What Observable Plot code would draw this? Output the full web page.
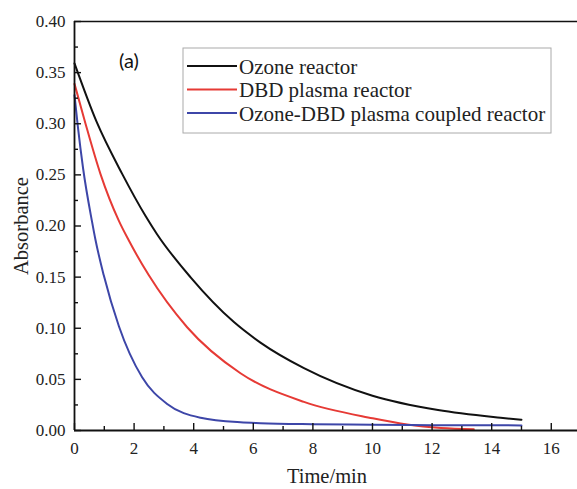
<!DOCTYPE html>
<html><head><meta charset="utf-8">
<script src="https://cdn.jsdelivr.net/npm/d3@7"></script>
<script src="https://cdn.jsdelivr.net/npm/@observablehq/plot@0.6"></script>
<style>
body{margin:0;background:#fff}
#chart{position:relative;width:577px;height:489px}
</style>
</head><body><div id="chart"></div>
<script>
// ---- data ----
const seriesNames = ["Ozone reactor", "DBD plasma reactor", "Ozone-DBD plasma coupled reactor"];
const seriesColors = ["#111111", "#e63a35", "#3d46a8"];

const ozoneTime = [0, 0.74, 1.6, 2.38, 2.77, 3.89, 5.35, 6.24, 7.7, 10.0, 12.2, 14.3, 15.0];
const ozoneAbs  = [0.359, 0.302, 0.251, 0.210, 0.192, 0.150, 0.106, 0.086, 0.061, 0.034, 0.020, 0.0125, 0.0105];

const dbdTime = [0, 0.37, 0.87, 1.49, 1.82, 2.49, 3.78, 5.57, 7.7, 10.0, 11.16, 12.3, 13.4];
const dbdAbs  = [0.339, 0.300, 0.251, 0.205, 0.186, 0.152, 0.101, 0.056, 0.028, 0.012, 0.0059, 0.0025, 0.0012];

const coupledTime = [0, 0.11, 0.29, 0.59, 0.70, 0.98, 1.49, 2.27, 3.11, 4.23, 5.57, 6.24, 8.0, 10.0, 12.0, 15.0];
const coupledAbs  = [0.328, 0.298, 0.256, 0.204, 0.187, 0.152, 0.102, 0.052, 0.026, 0.0125, 0.008, 0.0072, 0.0062, 0.0056, 0.0052, 0.005];

const xMajorTicks = [0, 2, 4, 6, 8, 10, 12, 14, 16];
const xMinorTicks = [1, 3, 5, 7, 9, 11, 13, 15];
const yMajorTicks = [0, 0.05, 0.10, 0.15, 0.20, 0.25, 0.30, 0.35, 0.40];
const yMinorTicks = [0.025, 0.075, 0.125, 0.175, 0.225, 0.275, 0.325, 0.375];
const xLabel = "Time/min";
const yLabel = "Absorbance";
const panelTag = "(a)";

// ---- build table ----
const rows = [];
[[ozoneTime, ozoneAbs], [dbdTime, dbdAbs], [coupledTime, coupledAbs]].forEach(([ts, as], i) => {
  ts.forEach((t, j) => rows.push({series: seriesNames[i], t, a: as[j]}));
});

const W = 577, H = 489, mL = 74, mR = 0, mT = 21, mB = 59;
const plotW = W - mL - mR, plotH = H - mT - mB;
const serif = "'Liberation Serif', 'Times New Roman', serif";

const svg = Plot.plot({
  width: W, height: H,
  marginLeft: mL, marginRight: mR, marginTop: mT, marginBottom: mB,
  style: {fontFamily: serif, fontSize: "17px", color: "#222", background: "#fff", overflow: "visible"},
  x: {domain: [0, 16.88]},
  y: {domain: [0, 0.40]},
  color: {domain: seriesNames, range: seriesColors},
  marks: [
    Plot.axisX(xMajorTicks, {tickSize: 0, tickPadding: 11, tickFormat: d => String(d), label: null, fontSize: 17, fill: "#222"}),
    Plot.axisY(yMajorTicks, {tickSize: 0, tickPadding: 9, tickFormat: d => d.toFixed(2), label: null, fontSize: 17, fill: "#222"}),
    Plot.line(rows, {x: "t", y: "a", z: "series", stroke: "series", strokeWidth: 2, curve: "monotone-x"}),
    Plot.tickX(xMajorTicks, {x: d => d, insetTop: plotH - 7, stroke: "#111", strokeWidth: 1.4}),
    Plot.tickX(xMinorTicks, {x: d => d, insetTop: plotH - 4, stroke: "#111", strokeWidth: 1.4}),
    Plot.tickY(yMajorTicks, {y: d => d, insetRight: plotW - 7, stroke: "#111", strokeWidth: 1.4}),
    Plot.tickY(yMinorTicks, {y: d => d, insetRight: plotW - 4, stroke: "#111", strokeWidth: 1.4}),
    Plot.ruleX([0], {stroke: "#111", strokeWidth: 1.8}),
    Plot.ruleY([0], {stroke: "#111", strokeWidth: 1.8}),
    Plot.ruleY([0.40], {stroke: "#111", strokeWidth: 1.6})
  ]
});

const s = d3.select(svg);
// force serif font on the tick labels
s.attr("font-family", serif);
s.selectAll("g, text").filter(function() { return this.hasAttribute("font-family"); }).attr("font-family", serif);
s.selectAll("text").attr("font-family", serif).style("font-family", serif);

// axis titles
s.append("text").attr("x", 327).attr("y", 483).attr("text-anchor", "middle")
  .attr("font-family", serif).attr("font-size", 20.5).attr("fill", "#222").text(xLabel);
s.append("text").attr("transform", "translate(28,226) rotate(-90)").attr("text-anchor", "middle")
  .attr("font-family", serif).attr("font-size", 20.5).attr("fill", "#222").text(yLabel);
// panel tag
s.append("text").attr("x", 119).attr("y", 68).attr("text-anchor", "start")
  .attr("font-family", "Lato, 'Open Sans', sans-serif")
  .attr("font-size", 20).attr("fill", "#111").text(panelTag);
// legend
const lg = s.append("g").attr("text-anchor", "start");
lg.append("rect").attr("x", 183).attr("y", 48).attr("width", 368).attr("height", 85)
  .attr("fill", "#fff").attr("stroke", "#aaa").attr("stroke-width", 1);
seriesNames.forEach((name, i) => {
  const y = 66 + i * 23.5;
  lg.append("line").attr("x1", 187).attr("x2", 237).attr("y1", y).attr("y2", y)
    .attr("stroke", seriesColors[i]).attr("stroke-width", 2);
  lg.append("text").attr("x", 239).attr("y", y + 7.5).attr("text-anchor", "start")
    .attr("font-family", serif).attr("font-size", 21).attr("fill", "#222").text(name);
});

document.getElementById("chart").appendChild(svg);
</script>
</body></html>
